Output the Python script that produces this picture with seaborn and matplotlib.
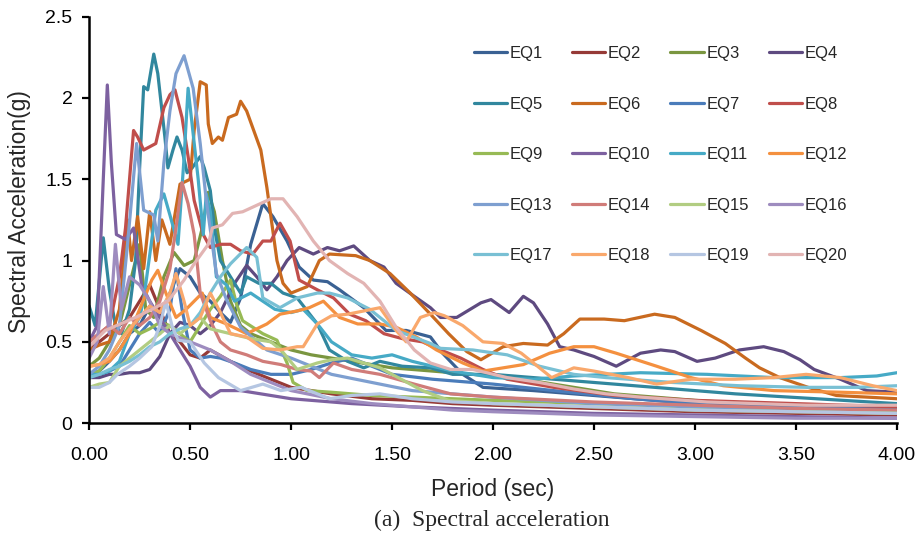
import pandas as pd
import matplotlib.pyplot as plt
import seaborn as sns

# Spectral acceleration (g) vs period (s), one list of (T, Sa) per record
EQ1 = [(0, 0.3), (0.05, 0.32), (0.1, 0.38), (0.15, 0.45), (0.2, 0.55), (0.25, 0.6), (0.3, 0.72), (0.35, 0.65),
       (0.4, 0.8), (0.45, 0.95), (0.5, 0.9), (0.55, 0.8), (0.6, 0.75), (0.65, 0.68), (0.7, 0.62), (0.75, 0.77),
       (0.8, 1.1), (0.86, 1.35), (0.91, 1.27), (0.98, 1.12), (1.04, 0.96), (1.11, 0.88), (1.18, 0.87), (1.24, 0.82),
       (1.36, 0.71), (1.47, 0.57), (1.57, 0.57), (1.69, 0.53), (1.75, 0.43), (1.85, 0.3), (1.95, 0.22), (2.2, 0.2),
       (2.5, 0.17), (3.0, 0.12), (3.5, 0.09), (4.0, 0.07)]
EQ2 = [(0, 0.45), (0.05, 0.5), (0.1, 0.55), (0.15, 0.6), (0.2, 0.65), (0.25, 0.75), (0.3, 0.85), (0.35, 0.7),
       (0.4, 0.55), (0.45, 0.5), (0.5, 0.42), (0.55, 0.4), (0.6, 0.45), (0.7, 0.38), (0.8, 0.32), (0.9, 0.27),
       (1.0, 0.22), (1.1, 0.2), (1.2, 0.18), (1.4, 0.15), (1.6, 0.14), (1.8, 0.12), (2.0, 0.11), (2.5, 0.09),
       (3.0, 0.07), (3.5, 0.06), (4.0, 0.05)]
EQ3 = [(0, 0.35), (0.05, 0.4), (0.1, 0.5), (0.15, 0.6), (0.2, 0.85), (0.25, 1.1), (0.28, 0.7), (0.32, 0.65),
       (0.37, 0.9), (0.42, 1.05), (0.47, 0.97), (0.52, 1.0), (0.56, 1.2), (0.59, 1.42), (0.62, 1.3), (0.66, 1.0),
       (0.7, 0.75), (0.75, 0.6), (0.8, 0.55), (0.9, 0.5), (1.0, 0.45), (1.1, 0.42), (1.2, 0.4), (1.3, 0.38),
       (1.5, 0.34), (1.7, 0.32), (1.9, 0.3), (2.1, 0.28), (2.3, 0.24), (2.6, 0.18), (3.0, 0.14), (3.5, 0.1),
       (4.0, 0.08)]
EQ4 = [(0, 0.28), (0.05, 0.28), (0.1, 0.3), (0.15, 0.3), (0.2, 0.31), (0.25, 0.31), (0.3, 0.33), (0.35, 0.41),
       (0.4, 0.55), (0.45, 0.62), (0.5, 0.6), (0.55, 0.55), (0.6, 0.6), (0.65, 0.68), (0.72, 0.86), (0.78, 0.97),
       (0.83, 0.9), (0.88, 0.82), (0.93, 0.9), (0.98, 1.0), (1.04, 1.08), (1.11, 1.04), (1.18, 1.08), (1.24, 1.06),
       (1.31, 1.09), (1.39, 1.0), (1.46, 0.96), (1.52, 0.86), (1.61, 0.78), (1.69, 0.71), (1.74, 0.65), (1.82, 0.65),
       (1.94, 0.74), (1.99, 0.76), (2.08, 0.68), (2.15, 0.78), (2.2, 0.74), (2.27, 0.61), (2.33, 0.47), (2.4, 0.45),
       (2.5, 0.41), (2.61, 0.35), (2.73, 0.43), (2.83, 0.45), (2.9, 0.44), (3.01, 0.38), (3.1, 0.4), (3.22, 0.45),
       (3.34, 0.47), (3.44, 0.44), (3.52, 0.39), (3.59, 0.33), (3.72, 0.27), (3.85, 0.2), (4.0, 0.19)]
EQ5 = [(0, 0.72), (0.03, 0.6), (0.07, 1.14), (0.1, 0.82), (0.13, 0.6), (0.16, 0.55), (0.2, 0.7), (0.23, 1.0),
       (0.25, 1.57), (0.27, 2.07), (0.29, 2.05), (0.32, 2.27), (0.34, 2.15), (0.375, 1.76), (0.39, 1.57),
       (0.415, 1.68), (0.435, 1.76), (0.46, 1.68), (0.485, 1.54), (0.51, 1.57), (0.55, 1.64), (0.57, 1.57),
       (0.6, 1.43), (0.62, 1.2), (0.65, 1.0), (0.7, 0.9), (0.75, 0.8), (0.78, 0.9), (0.84, 0.86), (0.9, 0.86),
       (0.96, 0.8), (1.03, 0.77), (1.13, 0.61), (1.19, 0.45), (1.28, 0.38), (1.36, 0.34), (1.44, 0.38), (1.55, 0.35),
       (1.69, 0.34), (1.8, 0.3), (2.0, 0.3), (2.2, 0.28), (2.5, 0.25), (2.8, 0.22), (3.2, 0.18), (3.6, 0.15),
       (4.0, 0.12)]
EQ6 = [(0, 0.45), (0.05, 0.48), (0.1, 0.5), (0.15, 0.7), (0.19, 1.25), (0.21, 1.0), (0.24, 1.27), (0.27, 0.95),
       (0.3, 1.3), (0.33, 1.0), (0.36, 1.25), (0.4, 1.1), (0.45, 1.47), (0.5, 1.5), (0.52, 1.8), (0.55, 2.1),
       (0.58, 2.08), (0.59, 1.84), (0.61, 1.72), (0.64, 1.76), (0.66, 1.74), (0.69, 1.88), (0.73, 1.9), (0.75, 1.98),
       (0.78, 1.92), (0.85, 1.68), (0.88, 1.45), (0.93, 1.0), (0.96, 0.86), (1.0, 0.8), (1.08, 0.84), (1.14, 1.0),
       (1.19, 1.04), (1.32, 1.03), (1.39, 1.0), (1.49, 0.92), (1.59, 0.8), (1.69, 0.67), (1.78, 0.55), (1.87, 0.44),
       (1.94, 0.39), (2.05, 0.47), (2.15, 0.49), (2.27, 0.48), (2.35, 0.55), (2.43, 0.64), (2.55, 0.64), (2.65, 0.63),
       (2.8, 0.67), (2.9, 0.65), (3.03, 0.57), (3.15, 0.49), (3.25, 0.4), (3.32, 0.34), (3.42, 0.28), (3.56, 0.22),
       (3.7, 0.17), (4.0, 0.15)]
EQ7 = [(0, 0.28), (0.05, 0.3), (0.1, 0.32), (0.15, 0.35), (0.2, 0.45), (0.25, 0.55), (0.3, 0.62), (0.35, 0.55),
       (0.4, 0.7), (0.43, 0.95), (0.46, 0.7), (0.5, 0.45), (0.55, 0.4), (0.6, 0.41), (0.65, 0.4), (0.72, 0.37),
       (0.8, 0.33), (0.9, 0.3), (1.0, 0.3), (1.1, 0.33), (1.2, 0.37), (1.3, 0.4), (1.4, 0.35), (1.5, 0.3),
       (1.7, 0.27), (2.0, 0.24), (2.3, 0.2), (2.7, 0.15), (3.0, 0.12), (3.5, 0.1), (4.0, 0.09)]
EQ8 = [(0, 0.5), (0.05, 0.55), (0.1, 0.6), (0.15, 0.9), (0.18, 1.2), (0.22, 1.8), (0.24, 1.76), (0.27, 1.68),
       (0.3, 1.7), (0.33, 1.72), (0.37, 1.94), (0.4, 2.02), (0.425, 2.05), (0.46, 1.88), (0.49, 1.64), (0.52, 1.37),
       (0.565, 1.16), (0.6, 1.08), (0.65, 1.1), (0.7, 1.1), (0.75, 1.06), (0.81, 1.04), (0.86, 1.12), (0.9, 1.12),
       (0.945, 1.23), (0.995, 1.12), (1.04, 0.88), (1.13, 0.82), (1.21, 0.77), (1.29, 0.67), (1.37, 0.63),
       (1.46, 0.55), (1.55, 0.52), (1.65, 0.5), (1.74, 0.45), (1.84, 0.4), (1.95, 0.33), (2.07, 0.27), (2.3, 0.22),
       (2.6, 0.17), (3.0, 0.14), (3.5, 0.12), (4.0, 0.1)]
EQ9 = [(0, 0.3), (0.05, 0.32), (0.1, 0.4), (0.15, 0.5), (0.2, 0.6), (0.25, 0.55), (0.3, 0.58), (0.35, 0.62),
       (0.4, 0.6), (0.45, 0.55), (0.5, 0.5), (0.55, 0.6), (0.6, 0.7), (0.65, 0.78), (0.7, 0.88), (0.73, 0.73),
       (0.76, 0.63), (0.86, 0.55), (0.93, 0.51), (0.98, 0.37), (1.01, 0.25), (1.08, 0.2), (1.2, 0.19), (1.4, 0.17),
       (1.6, 0.16), (1.8, 0.15), (2.0, 0.14), (2.5, 0.12), (3.0, 0.1), (3.5, 0.08), (4.0, 0.07)]
EQ10 = [(0, 0.5), (0.04, 0.6), (0.07, 1.5), (0.09, 2.08), (0.11, 1.6), (0.135, 1.16), (0.18, 1.13), (0.22, 1.2),
        (0.26, 0.85), (0.3, 0.75), (0.35, 0.65), (0.4, 0.55), (0.45, 0.45), (0.5, 0.35), (0.55, 0.22), (0.6, 0.16),
        (0.65, 0.2), (0.75, 0.2), (0.9, 0.17), (1.0, 0.15), (1.3, 0.12), (1.6, 0.1), (2.0, 0.08), (2.5, 0.06),
        (3.0, 0.05), (3.5, 0.04), (4.0, 0.03)]
EQ11 = [(0, 0.3), (0.05, 0.3), (0.1, 0.32), (0.15, 0.38), (0.2, 0.55), (0.25, 0.65), (0.27, 0.76), (0.33, 1.31),
        (0.37, 1.41), (0.4, 1.28), (0.44, 1.1), (0.47, 1.63), (0.49, 2.06), (0.515, 1.78), (0.54, 1.5),
        (0.565, 1.16), (0.58, 1.41), (0.6, 1.3), (0.63, 0.9), (0.68, 0.85), (0.72, 0.75), (0.8, 0.8), (0.86, 0.75),
        (0.92, 0.7), (1.0, 0.68), (1.06, 0.7), (1.13, 0.61), (1.2, 0.5), (1.3, 0.42), (1.4, 0.4), (1.5, 0.42),
        (1.6, 0.38), (1.8, 0.32), (2.0, 0.28), (2.2, 0.27), (2.4, 0.29), (2.73, 0.31), (3.06, 0.3), (3.39, 0.28),
        (3.72, 0.28), (3.9, 0.29), (4.0, 0.31)]
EQ12 = [(0, 0.35), (0.05, 0.36), (0.1, 0.38), (0.15, 0.45), (0.2, 0.55), (0.25, 0.7), (0.31, 0.88), (0.34, 0.94),
        (0.38, 0.8), (0.43, 0.65), (0.48, 0.7), (0.52, 0.75), (0.56, 0.8), (0.6, 0.65), (0.68, 0.61), (0.78, 0.55),
        (0.88, 0.61), (0.945, 0.67), (1.03, 0.69), (1.09, 0.71), (1.16, 0.75), (1.24, 0.65), (1.33, 0.61),
        (1.44, 0.61), (1.52, 0.59), (1.62, 0.53), (1.72, 0.45), (1.85, 0.37), (1.95, 0.32), (2.15, 0.36),
        (2.28, 0.43), (2.4, 0.47), (2.5, 0.47), (2.61, 0.43), (2.81, 0.35), (2.98, 0.28), (3.14, 0.23), (3.39, 0.2),
        (3.72, 0.19), (4.0, 0.18)]
EQ13 = [(0, 0.3), (0.05, 0.35), (0.1, 0.45), (0.15, 0.6), (0.19, 1.1), (0.235, 1.72), (0.27, 1.31), (0.32, 1.28),
        (0.34, 1.12), (0.37, 1.6), (0.4, 1.92), (0.43, 2.15), (0.47, 2.26), (0.515, 2.06), (0.55, 1.72),
        (0.58, 1.37), (0.63, 0.92), (0.68, 0.76), (0.75, 0.59), (0.88, 0.45), (1.0, 0.4), (1.2, 0.3), (1.4, 0.25),
        (1.6, 0.2), (1.8, 0.18), (2.0, 0.16), (2.5, 0.12), (3.0, 0.1), (3.5, 0.08), (4.0, 0.06)]
EQ14 = [(0, 0.5), (0.05, 0.55), (0.1, 0.6), (0.15, 0.55), (0.2, 0.65), (0.25, 0.6), (0.3, 0.65), (0.35, 0.75),
        (0.4, 0.95), (0.43, 1.2), (0.46, 1.48), (0.49, 1.35), (0.52, 1.16), (0.55, 0.8), (0.6, 0.63), (0.65, 0.5),
        (0.7, 0.45), (0.78, 0.42), (0.86, 0.38), (0.95, 0.36), (1.03, 0.33), (1.1, 0.32), (1.14, 0.28),
        (1.21, 0.37), (1.3, 0.33), (1.44, 0.3), (1.61, 0.24), (1.79, 0.18), (2.0, 0.16), (2.5, 0.13), (3.0, 0.11),
        (3.5, 0.09), (4.0, 0.08)]
EQ15 = [(0, 0.22), (0.05, 0.24), (0.1, 0.25), (0.15, 0.35), (0.2, 0.4), (0.25, 0.45), (0.3, 0.5), (0.35, 0.55),
        (0.4, 0.6), (0.45, 0.55), (0.5, 0.6), (0.55, 0.65), (0.6, 0.58), (0.7, 0.55), (0.8, 0.52), (0.9, 0.5),
        (0.95, 0.45), (1.03, 0.33), (1.13, 0.37), (1.2, 0.39), (1.28, 0.4), (1.44, 0.34), (1.56, 0.26), (1.65, 0.2),
        (1.78, 0.14), (2.0, 0.12), (2.5, 0.1), (3.0, 0.08), (3.5, 0.07), (4.0, 0.06)]
EQ16 = [(0, 0.4), (0.04, 0.5), (0.07, 0.84), (0.1, 0.55), (0.13, 1.1), (0.16, 0.7), (0.2, 0.9), (0.25, 0.85),
        (0.3, 0.75), (0.35, 0.6), (0.4, 0.55), (0.5, 0.5), (0.6, 0.45), (0.7, 0.38), (0.8, 0.3), (0.9, 0.25),
        (1.0, 0.2), (1.2, 0.15), (1.4, 0.12), (1.6, 0.1), (1.8, 0.08), (2.0, 0.07), (2.5, 0.05), (3.0, 0.04),
        (3.5, 0.03), (4.0, 0.03)]
EQ17 = [(0, 0.28), (0.05, 0.3), (0.1, 0.33), (0.15, 0.35), (0.2, 0.38), (0.25, 0.42), (0.3, 0.47), (0.35, 0.5),
        (0.4, 0.55), (0.45, 0.58), (0.5, 0.6), (0.55, 0.68), (0.6, 0.8), (0.65, 0.9), (0.7, 0.98), (0.78, 1.08),
        (0.83, 1.02), (0.86, 0.77), (0.945, 0.71), (1.03, 0.77), (1.13, 0.8), (1.19, 0.8), (1.28, 0.77),
        (1.39, 0.7), (1.52, 0.57), (1.69, 0.49), (1.74, 0.46), (1.9, 0.45), (2.07, 0.42), (2.23, 0.35), (2.4, 0.3),
        (2.56, 0.28), (2.89, 0.25), (3.22, 0.23), (3.55, 0.22), (3.8, 0.22), (4.0, 0.23)]
EQ18 = [(0, 0.35), (0.05, 0.36), (0.1, 0.4), (0.15, 0.5), (0.2, 0.58), (0.25, 0.65), (0.3, 0.72), (0.35, 0.68),
        (0.4, 0.8), (0.43, 0.92), (0.47, 0.75), (0.5, 0.6), (0.55, 0.65), (0.6, 0.8), (0.65, 0.68), (0.7, 0.55),
        (0.78, 0.53), (0.86, 0.46), (0.945, 0.45), (1.03, 0.47), (1.06, 0.47), (1.13, 0.61), (1.2, 0.66),
        (1.28, 0.67), (1.36, 0.69), (1.44, 0.71), (1.52, 0.57), (1.57, 0.5), (1.64, 0.65), (1.71, 0.68),
        (1.76, 0.66), (1.85, 0.6), (1.95, 0.5), (2.05, 0.49), (2.14, 0.43), (2.29, 0.28), (2.4, 0.34), (2.5, 0.32),
        (2.67, 0.28), (2.81, 0.24), (2.98, 0.27), (3.2, 0.27), (3.39, 0.28), (3.55, 0.3), (3.72, 0.28), (3.88, 0.23),
        (4.0, 0.2)]
EQ19 = [(0, 0.22), (0.05, 0.22), (0.1, 0.25), (0.14, 0.3), (0.2, 0.35), (0.25, 0.4), (0.31, 0.47), (0.35, 0.6),
        (0.38, 0.75), (0.41, 0.6), (0.44, 0.51), (0.5, 0.5), (0.57, 0.37), (0.64, 0.28), (0.75, 0.2), (0.86, 0.24),
        (0.95, 0.2), (1.05, 0.22), (1.19, 0.15), (1.3, 0.17), (1.44, 0.18), (1.6, 0.15), (1.8, 0.13), (2.0, 0.12),
        (2.5, 0.1), (3.0, 0.08), (3.5, 0.07), (4.0, 0.06)]
EQ20 = [(0, 0.47), (0.08, 0.57), (0.23, 0.65), (0.39, 0.75), (0.47, 0.88), (0.52, 0.98), (0.59, 1.1), (0.61, 1.2),
        (0.66, 1.22), (0.71, 1.29), (0.76, 1.3), (0.83, 1.34), (0.9, 1.38), (0.96, 1.38), (1.03, 1.27), (1.11, 1.12),
        (1.19, 1.0), (1.28, 0.92), (1.36, 0.86), (1.44, 0.75), (1.52, 0.59), (1.61, 0.45), (1.69, 0.37),
        (1.79, 0.33), (1.9, 0.33), (2.07, 0.28), (2.23, 0.25), (2.4, 0.21), (2.56, 0.18), (2.73, 0.16), (3.06, 0.13),
        (3.55, 0.11), (4.0, 0.11)]

names = [f'EQ{i}' for i in range(1, 21)]
records = [EQ1, EQ2, EQ3, EQ4, EQ5, EQ6, EQ7, EQ8, EQ9, EQ10,
           EQ11, EQ12, EQ13, EQ14, EQ15, EQ16, EQ17, EQ18, EQ19, EQ20]

# Excel-2010 style palette
colors = ['#3A6193', '#963A37', '#7A9640', '#5E4A80', '#31879E', '#C96A1F',
          '#4A7CBA', '#C04E4B', '#97BA55', '#7D61A0', '#46AAC6', '#F4903F',
          '#7E9FD0', '#D07C79', '#B2CD82', '#9E8CBF', '#79C0D4', '#F9A86C',
          '#B5C6E2', '#E2B4B3']

rows = []
for name, rec in zip(names, records):
    for t, sa in rec:
        rows.append((name, t, sa))
df = pd.DataFrame(rows, columns=['EQ', 'Period', 'SA'])

sns.set_style('ticks')
plt.rcParams['font.family'] = ['Liberation Sans', 'DejaVu Sans']

fig = plt.figure(figsize=(9.19, 5.39), dpi=100)
ax = fig.add_axes([0.097, 0.215, 0.879, 0.754])

sns.lineplot(data=df, x='Period', y='SA', hue='EQ', hue_order=names,
             palette=dict(zip(names, colors)), sort=False, estimator=None,
             linewidth=2.3, ax=ax)

ax.set_xlim(0, 4)
ax.set_ylim(0, 2.5)
ax.set_xticks([0, 0.5, 1, 1.5, 2, 2.5, 3, 3.5, 4])
ax.set_xticklabels([f'{v:.2f}' for v in ax.get_xticks()])
ax.set_yticks([0, 0.5, 1, 1.5, 2, 2.5])
ax.set_yticklabels(['0', '0.5', '1', '1.5', '2', '2.5'])
ax.tick_params(axis='both', labelsize=14, direction='out', length=5, width=1.6, colors='black')
ax.tick_params(axis='x', pad=12)
ax.tick_params(axis='y', pad=7)
for s in ['left', 'bottom']:
    ax.spines[s].set_linewidth(1.8)
    ax.spines[s].set_color('black')
sns.despine(ax=ax)

ax.set_xlabel('Period (sec)', fontsize=16.5, labelpad=10)
ax.set_ylabel('Spectral Acceleration(g)', fontsize=16.5, labelpad=4)
ax.yaxis.set_label_coords(-0.072, 0.52)

# legend filled row by row, 4 columns
handles, labels = ax.get_legend_handles_labels()
order = [r + 4 * k for r in range(4) for k in range(5)]
ax.legend([handles[i] for i in order], [labels[i] for i in order], ncol=4,
          loc='upper left', bbox_to_anchor=(0.5065, 0.9295), bbox_transform=fig.transFigure,
          frameon=False, fontsize=12, handlelength=2.0, handletextpad=0.15,
          columnspacing=1.2, labelspacing=2.13, borderpad=0)

fig.text(0.535, 0.034, '(a)  Spectral acceleration', ha='center', va='center',
         fontsize=17, family=['Liberation Serif', 'DejaVu Serif'])

fig.savefig('out.png', dpi=100)
